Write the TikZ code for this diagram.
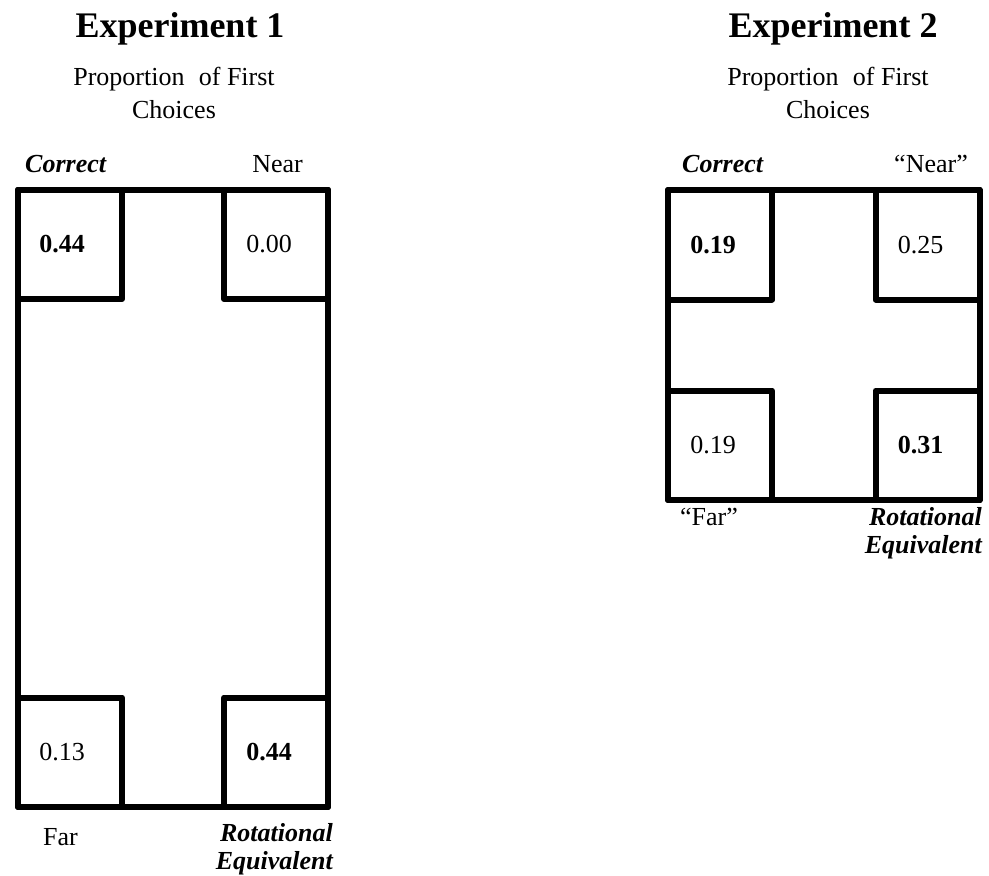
\documentclass[tikz,border=0pt]{standalone}
\usepackage{fontspec}
\setmainfont{Liberation Serif}
\usetikzlibrary{positioning}

\begin{document}
\begin{tikzpicture}[
    x=1pt, y=-1pt,
    % --- STYLES ---
    frame/.style={
        rectangle, draw=black, line width=6pt,
        line join=round, inner sep=0pt
    },
    cell/.style={
        rectangle, draw=black, line width=6pt,
        line join=round, inner sep=0pt,
        minimum width=104pt, minimum height=109.5pt
    },
    num/.style={font=\fontsize{26}{30}\selectfont, inner sep=0pt},
    heading/.style={font=\fontsize{36}{40}\selectfont\bfseries, anchor=base, inner sep=0pt},
    caption/.style={font=\fontsize{26}{33}\selectfont, align=center, anchor=base, inner sep=0pt},
    plain/.style={font=\fontsize{26}{29}\selectfont, inner sep=0pt},
    key/.style={font=\fontsize{26}{28}\selectfont\bfseries\itshape, align=right, inner sep=0pt}
]
\useasboundingbox (0,0) rectangle (989,876);

% ===== 1. HEADERS =====
\node[heading] (exp1) at (180,37) {Experiment 1};
\node[caption] (sub1) at (174,118) {Proportion\hspace{0.3em} of First\\Choices};

\node[heading] (exp2) at (833,37) {Experiment 2};
\node[caption] (sub2) at (828,118) {Proportion\hspace{0.3em} of First\\Choices};

% ===== 2. EXPERIMENT 1 =====
\node[frame, minimum width=310pt, minimum height=617.5pt, anchor=north west] (f1) at (15,186.5) {};

\node[cell, anchor=north west] (f1tl) at (f1.north west) {};
\node[cell, anchor=north east] (f1tr) at (f1.north east) {};
\node[cell, anchor=south west] (f1bl) at (f1.south west) {};
\node[cell, anchor=south east] (f1br) at (f1.south east) {};

\node[num] (n1tl) at ([xshift=-8pt]f1tl.center) {\textbf{0.44}};
\node[num] (n1tr) at ([xshift=-7pt]f1tr.center) {0.00};
\node[num] (n1bl) at ([xshift=-8pt]f1bl.center) {0.13};
\node[num] (n1br) at ([xshift=-7pt]f1br.center) {\textbf{0.44}};

\node[key, anchor=base west] (cor1) at (25,172) {Correct};
\node[plain, anchor=base east] (near1) at (303,172) {Near};
\node[plain, anchor=base west] (far1) at (43,845) {Far};
\node[key, anchor=base east] (rot1) at (333,869) {Rotational\\Equivalent};

% ===== 3. EXPERIMENT 2 =====
\node[frame, minimum width=311.5pt, minimum height=310pt, anchor=north west] (f2) at (665,187) {};

\node[cell, anchor=north west] (f2tl) at (f2.north west) {};
\node[cell, anchor=north east] (f2tr) at (f2.north east) {};
\node[cell, anchor=south west] (f2bl) at (f2.south west) {};
\node[cell, anchor=south east] (f2br) at (f2.south east) {};

\node[num] (n2tl) at ([xshift=-7pt]f2tl.center) {\textbf{0.19}};
\node[num] (n2tr) at ([xshift=-7pt]f2tr.center) {0.25};
\node[num] (n2bl) at ([xshift=-7pt]f2bl.center) {0.19};
\node[num] (n2br) at ([xshift=-7pt]f2br.center) {\textbf{0.31}};

\node[key, anchor=base west] (cor2) at (682,172) {Correct};
\node[plain, anchor=base east] (near2) at (968,172) {``Near''};
\node[plain, anchor=base west] (far2) at (680,525) {``Far''};
\node[key, anchor=base east] (rot2) at (982,553) {Rotational\\Equivalent};

\end{tikzpicture}
\end{document}
